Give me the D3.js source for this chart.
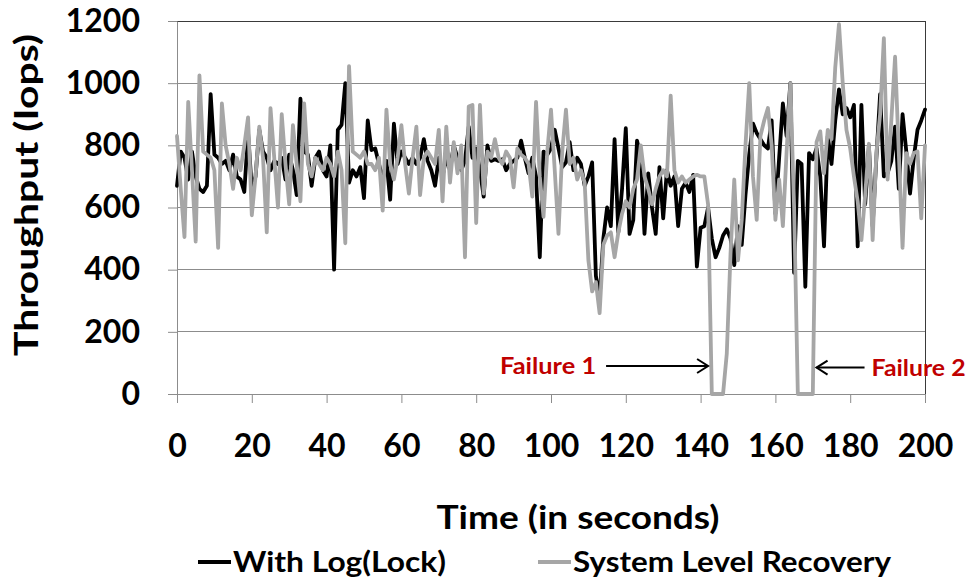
<!DOCTYPE html>
<html>
<head>
<meta charset="utf-8">
<script src="https://cdn.jsdelivr.net/npm/d3@7"></script>
<style>
  body { margin: 0; background: #fff; }
  text { font-family: Lato, "Open Sans", sans-serif; font-weight: 700; }
</style>
</head>
<body>
<svg id="chart" width="967" height="581"></svg>
<script>
// Time axis: one sample per second
const seconds = d3.range(0, 201);

// Throughput (Iops) per second, logging-based recovery
const withLogLock = [
  670,780,760,690,780,700,660,650,670,965,
  770,760,740,750,720,770,700,690,650,840,
  660,700,850,780,760,720,750,740,760,690,
  770,720,640,950,780,770,670,760,780,720,
  700,800,400,850,866,1000,680,720,700,730,
  630,880,785,790,740,690,750,625,870,740,
  780,760,740,760,740,760,820,750,720,670,
  760,700,760,720,800,760,720,750,860,760,
  790,720,635,800,750,755,750,755,720,740,
  750,760,815,760,710,760,700,440,780,770,
  790,850,790,730,745,810,720,760,740,670,
  700,745,380,310,500,600,540,820,520,660,
  855,515,560,815,760,515,710,600,515,730,
  565,720,670,700,540,660,680,650,705,410,
  535,540,600,500,440,470,510,530,500,415,
  540,480,640,770,870,840,820,800,790,880,
  580,760,935,830,1000,390,750,740,345,775,
  755,790,700,475,830,740,880,980,900,920,
  890,930,475,930,610,800,540,760,965,700,
  710,750,860,660,900,780,645,760,850,880,
  915
];

// Throughput (Iops) per second, system level recovery
const systemLevelRecovery = [
  830,660,505,940,720,490,1025,780,770,760,
  720,470,935,800,740,660,760,720,800,890,
  575,700,860,760,520,920,760,600,900,740,
  610,865,740,620,935,740,700,760,740,720,
  760,740,700,780,720,485,1055,780,770,760,
  780,740,740,720,760,590,915,740,690,760,
  865,740,645,760,860,640,760,780,760,740,
  850,620,860,680,810,710,800,440,925,930,
  550,930,645,780,760,820,760,740,780,760,
  665,790,770,760,740,635,940,700,570,780,
  915,720,515,780,915,740,760,690,720,680,
  430,330,360,260,480,510,520,440,520,580,
  620,600,660,690,800,700,660,610,660,700,
  720,700,960,720,680,700,680,690,700,705,
  700,700,610,0,0,0,0,130,450,690,
  430,560,800,1000,700,560,830,880,920,800,
  560,690,540,780,1000,600,0,0,0,0,
  0,810,845,710,850,820,1050,1190,1000,850,
  790,700,620,495,640,805,495,775,900,1145,
  690,880,1085,775,470,775,740,775,780,565,
  800
];

const xTicks = [0, 20, 40, 60, 80, 100, 120, 140, 160, 180, 200];
const yTicks = [0, 200, 400, 600, 800, 1000, 1200];
const seriesNames = ["With Log(Lock)", "System Level Recovery"];
const seriesColors = ["#000000", "#a6a6a6"];

// Failure annotations: where each arrow points (time, throughput) and its label
const failureNames = ["Failure 1", "Failure 2"];
const failureTimes = [142, 171];
const failureLevels = [90, 85];

const svg = d3.select("#chart");

const x = d3.scaleLinear().domain([0, 200]).range([177, 925]);
const y = d3.scaleLinear().domain([0, 1200]).range([394, 21]);

const gridColor = "#8c8c8c";

// Horizontal gridlines
svg.append("g")
  .selectAll("line")
  .data(yTicks.filter(v => v > 0))
  .join("line")
  .attr("x1", x(0)).attr("x2", x(200))
  .attr("y1", d => y(d)).attr("y2", d => y(d))
  .attr("stroke", gridColor).attr("stroke-width", 1)
  .attr("shape-rendering", "crispEdges");

// Plot frame, top and right
svg.append("path")
  .attr("d", `M${x(0)},${y(1200)}H${x(200)}V${y(0)}`)
  .attr("fill", "none").attr("stroke", "#3a3a3a").attr("stroke-width", 1)
  .attr("shape-rendering", "crispEdges");

// Y axis
const yAxis = svg.append("g")
  .attr("transform", `translate(${x(0)},0)`)
  .call(d3.axisLeft(y).tickValues(yTicks).tickFormat(d3.format("d"))
    .tickSize(9).tickSizeOuter(0).tickPadding(28));
yAxis.select(".domain").attr("stroke", gridColor);
yAxis.selectAll(".tick line").attr("stroke", gridColor);
yAxis.selectAll(".tick text")
  .attr("fill", "#000").style("font-size", "32px")
  .style("font-family", "Lato, 'Open Sans', sans-serif").style("font-weight", 700);

// X axis
const xAxis = svg.append("g")
  .attr("transform", `translate(0,${y(0)})`)
  .call(d3.axisBottom(x).tickValues(xTicks).tickFormat(d3.format("d"))
    .tickSize(9).tickSizeOuter(0).tickPadding(31));
xAxis.select(".domain").attr("stroke", gridColor);
xAxis.selectAll(".tick line").attr("stroke", gridColor);
xAxis.selectAll(".tick text")
  .attr("fill", "#000").style("font-size", "32px")
  .style("font-family", "Lato, 'Open Sans', sans-serif").style("font-weight", 700);

// Series lines
const line = d3.line()
  .x((d, i) => x(seconds[i]))
  .y(d => y(d))
  .curve(d3.curveLinear);

[withLogLock, systemLevelRecovery].forEach((series, k) => {
  svg.append("path")
    .datum(series)
    .attr("d", line)
    .attr("fill", "none")
    .attr("stroke", seriesColors[k])
    .attr("stroke-width", 3.8)
    .attr("stroke-linejoin", "round")
    .attr("stroke-linecap", "round");
});

// Failure annotations
const redText = "#c00000";
function arrow(xTip, yTip, xTail, dir) {
  const g = svg.append("g").attr("stroke", "#000").attr("stroke-width", 2).attr("fill", "none");
  g.append("line").attr("x1", xTail).attr("x2", xTip).attr("y1", yTip).attr("y2", yTip);
  g.append("path")
    .attr("d", `M${xTip - dir * 11},${yTip - 7}L${xTip},${yTip}L${xTip - dir * 11},${yTip + 7}`);
}
// Failure 1: label on the left, arrow pointing right
{
  const tipX = x(failureTimes[0]), tipY = y(failureLevels[0]);
  arrow(tipX, tipY, tipX - 102, 1);
  svg.append("text")
    .attr("x", tipX - 112).attr("y", tipY + 8)
    .attr("text-anchor", "end")
    .attr("textLength", 96).attr("lengthAdjust", "spacingAndGlyphs")
    .attr("fill", redText).style("font-size", "23px")
    .text(failureNames[0]);
}
// Failure 2: label on the right, arrow pointing left
{
  const tipX = x(failureTimes[1]), tipY = y(failureLevels[1]);
  arrow(tipX, tipY, tipX + 48, -1);
  svg.append("text")
    .attr("x", tipX + 55).attr("y", tipY + 8)
    .attr("text-anchor", "start")
    .attr("textLength", 94).attr("lengthAdjust", "spacingAndGlyphs")
    .attr("fill", redText).style("font-size", "23px")
    .text(failureNames[1]);
}

// Axis titles
svg.append("text")
  .attr("x", 578).attr("y", 529)
  .attr("text-anchor", "middle")
  .attr("textLength", 283).attr("lengthAdjust", "spacingAndGlyphs")
  .style("font-size", "33px")
  .text("Time (in seconds)");

svg.append("text")
  .attr("transform", "translate(38,195) rotate(-90)")
  .attr("text-anchor", "middle")
  .attr("textLength", 322).attr("lengthAdjust", "spacingAndGlyphs")
  .style("font-size", "32px")
  .text("Throughput (Iops)");

// Legend
const legendX = [198, 538];
const legendTextLen = [213, 318];
seriesNames.forEach((name, k) => {
  svg.append("line")
    .attr("x1", legendX[k]).attr("x2", legendX[k] + 33)
    .attr("y1", 562).attr("y2", 562)
    .attr("stroke", seriesColors[k]).attr("stroke-width", 3.8);
  svg.append("text")
    .attr("x", legendX[k] + 35).attr("y", 572)
    .attr("textLength", legendTextLen[k]).attr("lengthAdjust", "spacingAndGlyphs")
    .style("font-size", "28px")
    .text(name);
});
</script>
</body>
</html>
